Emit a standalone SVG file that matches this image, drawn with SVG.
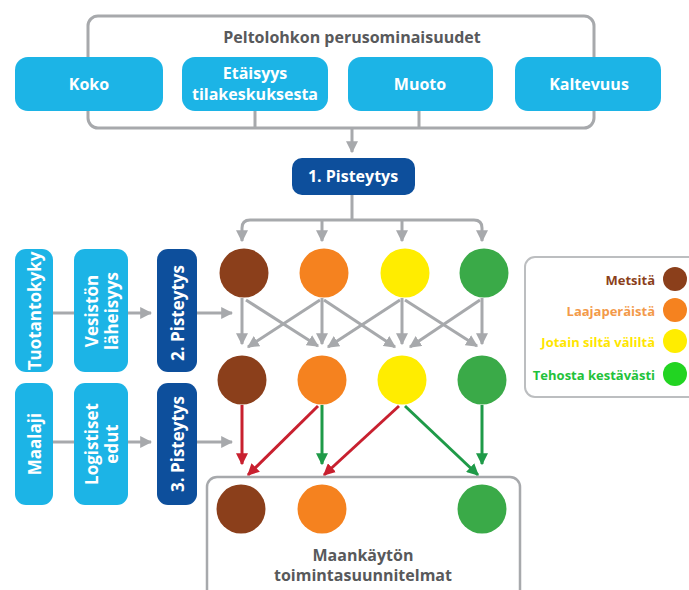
<svg xmlns="http://www.w3.org/2000/svg" width="689" height="590" viewBox="0 0 689 590">
<style>
text{font-family:"Open Sans","Liberation Sans",sans-serif;font-weight:700;}
.w{fill:#fff;font-size:16px;text-anchor:middle;dominant-baseline:central;}
.v{font-size:17px;}
.g{fill:#58595b;font-size:16px;text-anchor:middle;}
.cy{fill:#1cb4e6;}
.db{fill:#0d4f9c;}
.con{fill:none;stroke:#a7a9ac;stroke-width:3;}
.ga{fill:none;stroke:#a7a9ac;stroke-width:3;marker-end:url(#ag);}
.ra{fill:none;stroke:#c8202f;stroke-width:3;marker-end:url(#ar);}
.gr{fill:none;stroke:#1f9a48;stroke-width:3;marker-end:url(#agr);}
.lg{font-size:13px;text-anchor:end;dominant-baseline:central;}
</style>
<defs>
<marker id="ag" viewBox="0 0 10 10" refX="9" refY="5" markerWidth="12" markerHeight="12" markerUnits="userSpaceOnUse" orient="auto"><path d="M0,0 L10,5 L0,10 Z" fill="#a7a9ac"/></marker>
<marker id="ar" viewBox="0 0 10 10" refX="9" refY="5" markerWidth="12" markerHeight="12" markerUnits="userSpaceOnUse" orient="auto"><path d="M0,0 L10,5 L0,10 Z" fill="#c8202f"/></marker>
<marker id="agr" viewBox="0 0 10 10" refX="9" refY="5" markerWidth="12" markerHeight="12" markerUnits="userSpaceOnUse" orient="auto"><path d="M0,0 L10,5 L0,10 Z" fill="#1f9a48"/></marker>
</defs>
<rect width="689" height="590" fill="#fff"/>

<g id="perusominaisuudet">
<rect x="88" y="16" width="506" height="112" rx="10" fill="none" stroke="#a7a9ac" stroke-width="3"/>
<text class="g" x="352" y="43">Peltolohkon perusominaisuudet</text>
</g>

<g id="connectors">
<path class="con" d="M255,108 V128 M419,108 V128"/>
<path class="ga" d="M352,128 V152"/>
<path class="con" d="M352,195 V220"/>
<path class="ga" d="M352,220 H250 Q242,220 242,228 V241"/>
<path class="ga" d="M352,220 H474 Q482,220 482,228 V241"/>
<path class="ga" d="M322,220 V241"/>
<path class="ga" d="M402,220 V241"/>
<path class="ga" d="M242,298 V344"/>
<path class="ga" d="M246,300 L318,346"/>
<path class="ga" d="M320,300 L248,347"/>
<path class="ga" d="M322,298 V344"/>
<path class="ga" d="M324,300 L395,347"/>
<path class="ga" d="M400,300 L328,347"/>
<path class="ga" d="M402,298 V344"/>
<path class="ga" d="M405,300 L477,346"/>
<path class="ga" d="M480,300 L410,347"/>
<path class="ga" d="M482,298 V344"/>
<path class="con" d="M53,313 H74"/>
<path class="ga" d="M128,313 H151"/>
<path class="ga" d="M197,313 H232"/>
<path class="con" d="M53,442 H74"/>
<path class="ga" d="M128,442 H151"/>
<path class="ga" d="M197,442 H232"/>
<path class="ra" d="M242,405 V464"/>
<path class="ra" d="M318,406 L248,475"/>
<path class="gr" d="M322,405 V464"/>
<path class="ra" d="M399,406 L324,475"/>
<path class="gr" d="M405,406 L478,475"/>
<path class="gr" d="M482,405 V464"/>
</g>

<g id="koko"><rect class="cy" x="15" y="57" width="148" height="54" rx="13"/><text class="w" x="89" y="84">Koko</text></g>
<g id="etaisyys"><rect class="cy" x="182" y="57" width="146" height="54" rx="13"/><text class="w" x="255" y="73" font-size="15">Etäisyys</text><text class="w" x="255" y="94" font-size="15">tilakeskuksesta</text></g>
<g id="muoto"><rect class="cy" x="348" y="57" width="145" height="54" rx="13"/><text class="w" x="420" y="84">Muoto</text></g>
<g id="kaltevuus"><rect class="cy" x="515" y="57" width="146" height="54" rx="13"/><text class="w" x="589" y="84">Kaltevuus</text></g>

<g id="pisteytys1"><rect class="db" x="292" y="158" width="123" height="37" rx="10"/><text class="w" x="353" y="176">1. Pisteytys</text></g>

<g id="tuotantokyky"><rect class="cy" x="15" y="249" width="38" height="123" rx="11"/><text class="w v" transform="translate(34,311) rotate(-90)">Tuotantokyky</text></g>
<g id="vesiston"><rect class="cy" x="74" y="249" width="54" height="123" rx="11"/><text class="w v" transform="translate(101,311) rotate(-90)"><tspan x="0" y="-10">Vesistön</tspan><tspan x="0" y="10">läheisyys</tspan></text></g>
<g id="pisteytys2"><rect class="db" x="157" y="249" width="40" height="123" rx="11"/><text class="w v" transform="translate(177,313) rotate(-90)">2. Pisteytys</text></g>

<g id="maalaji"><rect class="cy" x="15" y="383" width="38" height="122" rx="11"/><text class="w v" transform="translate(34,444) rotate(-90)">Maalaji</text></g>
<g id="logistiset"><rect class="cy" x="74" y="383" width="54" height="122" rx="11"/><text class="w v" transform="translate(101,444) rotate(-90)"><tspan x="0" y="-10">Logistiset</tspan><tspan x="0" y="10">edut</tspan></text></g>
<g id="pisteytys3"><rect class="db" x="157" y="383" width="40" height="122" rx="11"/><text class="w v" transform="translate(177,444) rotate(-90)">3. Pisteytys</text></g>

<g id="rivi1">
<circle cx="244" cy="273" r="24.5" fill="#8b3f1b"/>
<circle cx="324" cy="273" r="24.5" fill="#f5821f"/>
<circle cx="405" cy="273" r="24.5" fill="#ffed00"/>
<circle cx="484" cy="273" r="24.5" fill="#3aaa48"/>
</g>
<g id="rivi2">
<circle cx="242" cy="380" r="24.5" fill="#8b3f1b"/>
<circle cx="322" cy="380" r="24.5" fill="#f5821f"/>
<circle cx="402" cy="380" r="24.5" fill="#ffed00"/>
<circle cx="482" cy="380" r="24.5" fill="#3aaa48"/>
</g>

<g id="toimintasuunnitelmat">
<rect x="207" y="477" width="313" height="130" rx="10" fill="#fff" stroke="#a7a9ac" stroke-width="2.5"/>
<circle cx="241" cy="509" r="24.5" fill="#8b3f1b"/>
<circle cx="322" cy="509" r="24.5" fill="#f5821f"/>
<circle cx="482" cy="509" r="24.5" fill="#3aaa48"/>
<text class="g" x="363" y="561" font-size="17">Maankäytön</text>
<text class="g" x="363" y="581" font-size="17">toimintasuunnitelmat</text>
</g>

<g id="legend">
<rect x="525" y="257" width="180" height="140" rx="10" fill="#fff" stroke="#bcbec0" stroke-width="2"/>
<text class="lg" x="655" y="280" fill="#8b3f1b">Metsitä</text>
<circle cx="675" cy="279" r="12" fill="#8b3f1b"/>
<text class="lg" x="655" y="311" fill="#f39a4a">Laajaperäistä</text>
<circle cx="675" cy="310" r="12" fill="#f5821f"/>
<text class="lg" x="655" y="342" fill="#ffe600">Jotain siltä väliltä</text>
<circle cx="675" cy="341" r="12" fill="#ffed00"/>
<text class="lg" x="655" y="375" fill="#22c23a">Tehosta kestävästi</text>
<circle cx="675" cy="374" r="12" fill="#22d422"/>
</g>
</svg>
